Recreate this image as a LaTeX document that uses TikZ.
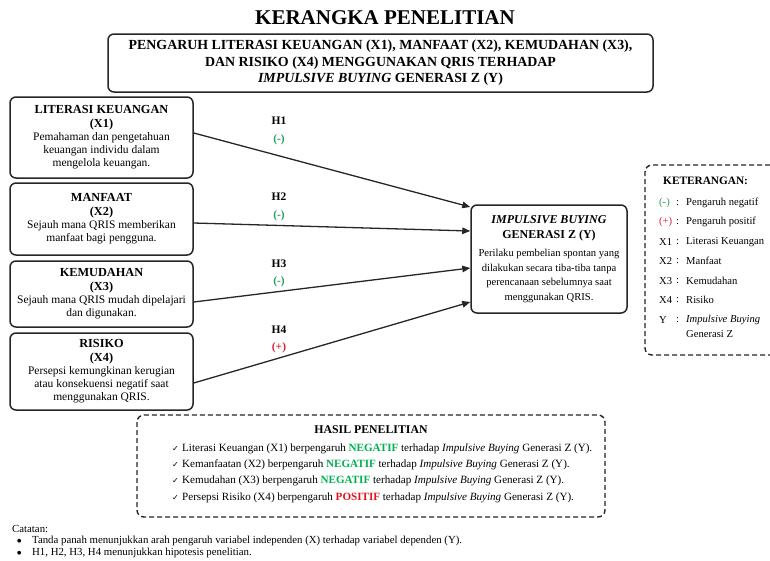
\documentclass[tikz,border=0pt]{standalone}
\usepackage{fontspec}
\setmainfont{Liberation Serif}
\newfontfamily\symfont{DejaVu Sans}
\usetikzlibrary{arrows.meta}
\definecolor{signGreen}{RGB}{40,160,90}
\definecolor{signRed}{RGB}{215,35,55}
\definecolor{resGreen}{RGB}{0,176,80}
\definecolor{resRed}{RGB}{225,20,30}
\newcommand{\hd}[1]{{\fontsize{12.3}{13.3}\selectfont\bfseries #1}}

\begin{document}
\begin{tikzpicture}
 [x=1pt, y=-1pt, >={Triangle[length=8pt,width=6.5pt]},
  var node/.style={draw=black!85, line width=1.5pt, rounded corners=6pt, align=center,
    minimum width=183pt, inner sep=2pt, font=\fontsize{11.5}{13.3}\selectfont},
  dep node/.style={draw=black!85, line width=1.5pt, rounded corners=6pt, align=center,
    minimum width=156pt, minimum height=108pt, inner sep=2pt, font=\fontsize{10.6}{14.5}\selectfont},
  hyp node/.style={align=center, font=\bfseries\fontsize{11.5}{17.5}\selectfont},
  ket node/.style={anchor=west, inner sep=0pt, font=\fontsize{10.6}{12}\selectfont},
  res node/.style={anchor=west, inner sep=0pt, font=\fontsize{11.1}{12}\selectfont},
  note node/.style={anchor=west, inner sep=0pt, font=\fontsize{10.8}{12}\selectfont},
  dash box/.style={draw=black!85, line width=1.4pt, rounded corners=7pt, dash pattern=on 5pt off 3pt}]

\useasboundingbox (0,0) rectangle (770,560);

% judul
\node (title) at (385,18) {\fontsize{21}{24}\selectfont\bfseries KERANGKA PENELITIAN};
\node[draw=black!85, line width=1.5pt, rounded corners=6pt, align=center, minimum width=545pt,
  minimum height=58pt, font=\bfseries\fontsize{13.9}{16.5}\selectfont] (topic) at (380.5,63)
  {PENGARUH LITERASI KEUANGAN (X1), MANFAAT (X2), KEMUDAHAN (X3),\\
   DAN RISIKO (X4) MENGGUNAKAN QRIS TERHADAP\\
   \textit{IMPULSIVE BUYING} GENERASI Z (Y)};

% variabel independen
\node[var node, minimum height=81pt] (x1) at (101.5,137.5)
  {\hd{LITERASI KEUANGAN}\\ \hd{(X1)}\\ Pemahaman dan pengetahuan\\ keuangan individu dalam\\ mengelola keuangan.};
\node[var node, minimum height=72pt] (x2) at (101.5,219)
  {\hd{MANFAAT}\\ \hd{(X2)}\\ Sejauh mana QRIS memberikan\\ manfaat bagi pengguna.};
\node[var node, minimum height=66pt] (x3) at (101.5,294)
  {\hd{KEMUDAHAN}\\ \hd{(X3)}\\ Sejauh mana QRIS mudah dipelajari\\ dan digunakan.};
\node[var node, minimum height=77pt] (x4) at (101.5,371.5)
  {\hd{RISIKO}\\ \hd{(X4)}\\ Persepsi kemungkinan kerugian\\ atau konsekuensi negatif saat\\ menggunakan QRIS.};

% variabel dependen
\node[dep node] (y) at (549,259)
  {{\fontsize{12}{14}\selectfont\bfseries\itshape IMPULSIVE BUYING}\\
   {\fontsize{12}{14}\selectfont\bfseries GENERASI Z (Y)}\\[4pt]
   Perilaku pembelian spontan yang\\ dilakukan secara tiba-tiba tanpa\\
   perencanaan sebelumnya saat\\ menggunakan QRIS.};

% hipotesis
\node[hyp node] (h1) at (279,131) {H1\\ \textcolor{signGreen}{(-)}};
\node[hyp node] (h2) at (279,207) {H2\\ \textcolor{signGreen}{(-)}};
\node[hyp node] (h3) at (279,273.5) {H3\\ \textcolor{signGreen}{(-)}};
\node[hyp node] (h4) at (279,339.5) {H4\\ \textcolor{signRed}{(+)}};

\path[line width=1.3pt, black!85]
  ([yshift=4.5pt]x1.east) edge [->] ([yshift=52pt]y.west)
  ([yshift=-4pt]x2.east) edge [->] ([yshift=28pt]y.west)
  ([yshift=-8pt]x3.east) edge [->] ([yshift=-9pt]y.west)
  ([yshift=-11.5pt]x4.east) edge [->] ([yshift=-43pt]y.west);

% keterangan
\draw[dash box] (770,165) -| (645,355) -- (770,355);
\node[ket node, font=\bfseries\fontsize{11.3}{12}\selectfont] (ket) at (663,181) {KETERANGAN:};
\foreach \sym/\txt/\yy [count=\i] in
  {\textcolor{signGreen}{(-)}/Pengaruh negatif/203,
   \textcolor{signRed}{(+)}/Pengaruh positif/222,
   X1/Literasi Keuangan/242,
   X2/Manfaat/261,
   X3/Kemudahan/281,
   X4/Risiko/300,
   Y/\textit{Impulsive Buying}/320}
{
  \node[ket node] (ks\i) at (659,\yy) {\sym};
  \node[ket node] (kc\i) at (676,\yy) {:};
  \node[ket node] (kt\i) at (686,\yy) {\txt};
}
\node[ket node] (kt8) at (686,334) {Generasi Z};

% hasil penelitian
\draw[dash box] (137,415) rectangle (605,517);
\node[font=\bfseries\fontsize{11.8}{13}\selectfont] (hasil) at (371,430) {HASIL PENELITIAN};
\foreach \txt/\yy [count=\i] in
  {Literasi Keuangan (X1) berpengaruh \textbf{\textcolor{resGreen}{NEGATIF}}/449,
   Kemanfaatan (X2) berpengaruh \textbf{\textcolor{resGreen}{NEGATIF}}/465,
   Kemudahan (X3) berpengaruh \textbf{\textcolor{resGreen}{NEGATIF}}/481,
   Persepsi Risiko (X4) berpengaruh \textbf{\textcolor{resRed}{POSITIF}}/498}
{
  \node[res node] (chk\i) at (172,\yy) {\symfont\fontsize{8}{9}\selectfont ✓};
  \node[res node] (res\i) at (182,\yy) {\txt{} terhadap \textit{Impulsive Buying} Generasi Z (Y).};
}

% catatan
\node[note node] (cat) at (12,529) {Catatan:};
\node[note node] (b1) at (17,541) {\symfont\fontsize{5}{6}\selectfont ●};
\node[note node] (n1) at (32,541) {Tanda panah menunjukkan arah pengaruh variabel independen (X) terhadap variabel dependen (Y).};
\node[note node] (b2) at (17,553) {\symfont\fontsize{5}{6}\selectfont ●};
\node[note node] (n2) at (32,553) {H1, H2, H3, H4 menunjukkan hipotesis penelitian.};
\end{tikzpicture}
\end{document}
